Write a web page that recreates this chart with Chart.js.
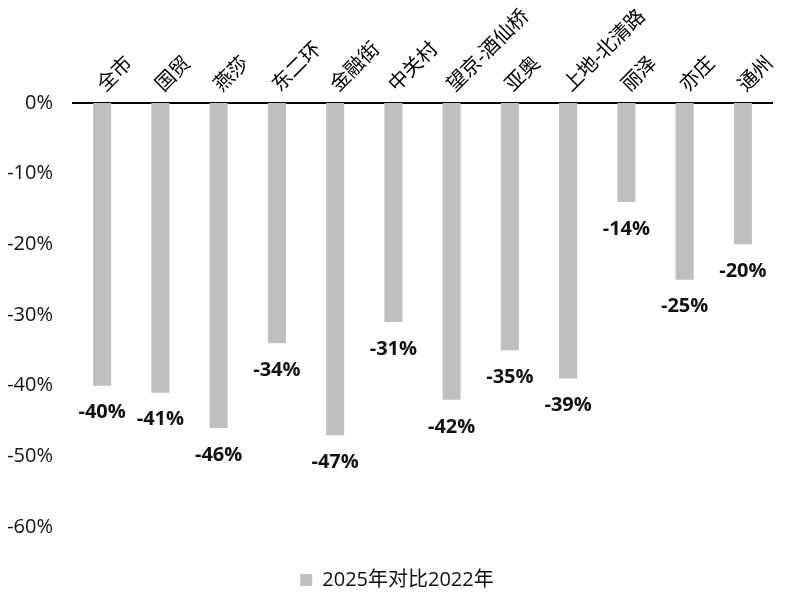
<!DOCTYPE html>
<html>
<head>
<meta charset="utf-8">
<script src="https://cdn.jsdelivr.net/npm/chart.js@4"></script>
<style>
  html, body { margin: 0; padding: 0; background: #fff; }
  #wrap { width: 785px; height: 597px; }
</style>
</head>
<body>
<div id="wrap"><canvas id="chart"></canvas></div>
<script>
const categories = ['全市', '国贸', '燕莎', '东二环', '金融街', '中关村', '望京-酒仙桥', '亚奥', '上地-北清路', '丽泽', '亦庄', '通州'];
const changeValues = [-40, -41, -46, -34, -47, -31, -42, -35, -39, -14, -25, -20];
const seriesName = '2025年对比2022年';

const FONT = '"Open Sans", "Noto Sans CJK SC", sans-serif';

// draw value labels below each bar end
const valueLabels = {
    id: 'valueLabels',
    afterDatasetsDraw(chart) {
        const ctx = chart.ctx;
        const meta = chart.getDatasetMeta(0);
        ctx.save();
        ctx.font = 'bold 20px ' + FONT;
        ctx.fillStyle = '#111';
        ctx.textAlign = 'center';
        ctx.textBaseline = 'middle';
        meta.data.forEach((bar, i) => {
            const v = chart.data.datasets[0].data[i];
            ctx.fillText(v + '%', bar.x, bar.y + 27);
        });
        ctx.restore();
    }
};

// legend sits a little right of the canvas centre in the original
const nudgeLegend = {
    id: 'nudgeLegend',
    afterLayout(chart) {
        if (chart.legend) chart.legend.left += 22;
    }
};

new Chart(document.getElementById('chart'), {
    type: 'bar',
    data: {
        labels: categories,
        datasets: [{
            label: seriesName,
            data: changeValues,
            backgroundColor: '#bfbfbf',
            borderWidth: 0,
            barPercentage: 0.31,
            categoryPercentage: 1
        }]
    },
    options: {
        responsive: true,
        maintainAspectRatio: false,
        animation: false,
        layout: {
            padding: { left: 0, right: 13, top: 0, bottom: -3 }
        },
        scales: {
            x: {
                position: 'top',
                grid: { display: false, drawTicks: false },
                border: { display: true, color: '#000', width: 2 },
                afterFit: s => { s.height = 103; },
                ticks: {
                    minRotation: 45,
                    maxRotation: 45,
                    autoSkip: false,
                    padding: 6,
                    labelOffset: 16,
                    color: '#000',
                    font: { family: FONT, size: 20 }
                }
            },
            // empty spacer between the plot and the legend
            gap: {
                type: 'category',
                labels: categories,
                position: 'bottom',
                grid: { display: false, drawTicks: false },
                border: { display: false },
                ticks: { display: false },
                afterFit: s => { s.height = 33; }
            },
            y: {
                min: -60,
                max: 0,
                grid: { display: false },
                border: { display: false },
                afterFit: s => { s.width = 73; },
                ticks: {
                    stepSize: 10,
                    padding: 12,
                    color: '#111',
                    font: { family: FONT, size: 20 },
                    callback: v => v + '%'
                }
            }
        },
        plugins: {
            legend: {
                position: 'bottom',
                labels: {
                    boxWidth: 12,
                    boxHeight: 12,
                    padding: 10,
                    color: '#111',
                    font: { family: FONT, size: 20 }
                }
            },
            tooltip: { enabled: false }
        }
    },
    plugins: [valueLabels, nudgeLegend]
});
</script>
</body>
</html>
